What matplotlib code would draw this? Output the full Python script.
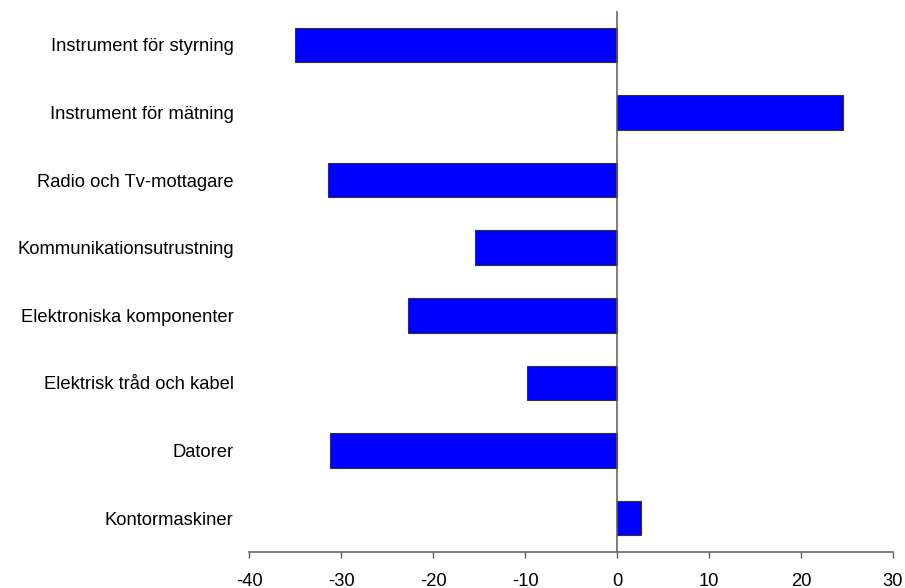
import matplotlib
matplotlib.use("Agg")
import matplotlib.pyplot as plt

categories = [
    "Instrument för styrning",
    "Instrument för mätning",
    "Radio och Tv-mottagare",
    "Kommunikationsutrustning",
    "Elektroniska komponenter",
    "Elektrisk tråd och kabel",
    "Datorer",
    "Kontormaskiner",
]
values = [-35.0, 24.6, -31.4, -15.4, -22.7, -9.8, -31.2, 2.6]
xticks = [-40, -30, -20, -10, 0, 10, 20, 30]

plt.rcParams['font.family'] = ['Liberation Sans', 'DejaVu Sans']

fig = plt.figure(figsize=(9.05, 5.88), dpi=100)
ax = fig.add_axes([249/905, 1 - 552/588, (893-249)/905, (552-11)/588])

n = len(categories)
ypos = list(range(n))[::-1]
ax.barh(ypos, values, height=0.51, color='#0000FF', edgecolor='#333333', linewidth=0.8, zorder=2)
ax.axvline(0, color='#5a5a5a', linewidth=1.1, zorder=3)

ax.set_xlim(-40, 30)
ax.set_ylim(-0.5, n - 0.5)
ax.set_xticks(xticks)
ax.set_xticklabels([str(t) for t in xticks], fontsize=13.2)
ax.set_yticks(ypos)
ax.set_yticklabels(categories, fontsize=13.2)
ax.tick_params(axis='y', length=0, pad=11)
ax.tick_params(axis='x', direction='out', length=4.3, width=1.0, color='#5a5a5a', pad=10.5)

for s in ['top', 'right', 'left']:
    ax.spines[s].set_visible(False)
ax.spines['bottom'].set_color('#5a5a5a')
ax.spines['bottom'].set_linewidth(1.1)

fig.savefig('out.png', dpi=100, facecolor='white')
